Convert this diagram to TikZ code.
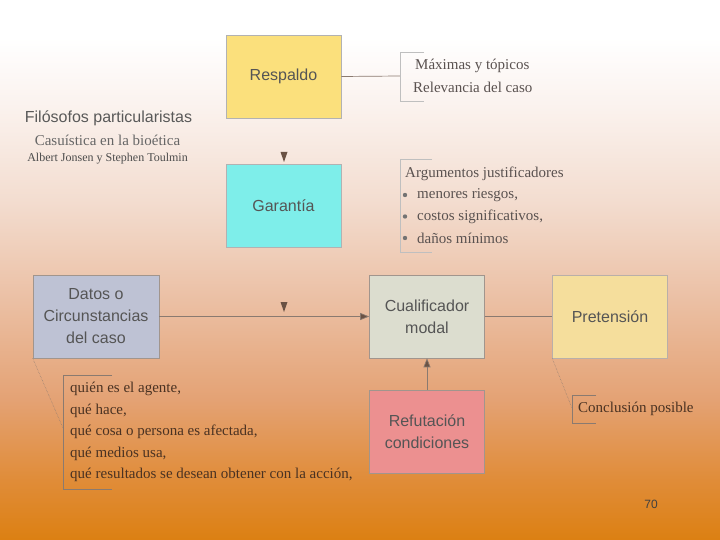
\documentclass[tikz,border=0pt]{standalone}
\usepackage{fontspec}
\setmainfont{Liberation Serif}
\setsansfont{Liberation Sans}
\usetikzlibrary{arrows.meta}
\definecolor{bgA}{HTML}{DC8012}
\definecolor{bgB}{HTML}{E08C38}
\definecolor{bgC}{HTML}{E4A274}
\definecolor{bgD}{HTML}{EBBFA3}
\definecolor{bgE}{HTML}{F3DDD0}
\definecolor{bgF}{HTML}{FBF3EF}
\definecolor{respc}{HTML}{FBE07C}
\definecolor{garc}{HTML}{7EEEEA}
\definecolor{datc}{HTML}{BEC2D4}
\definecolor{cualc}{HTML}{DCDDCF}
\definecolor{pretc}{HTML}{F5DE9C}
\definecolor{refc}{HTML}{EC9090}
\definecolor{boxtxt}{HTML}{555555}
\definecolor{anntxt}{HTML}{5A5250}
\definecolor{anntxtB}{HTML}{4A3222}
\definecolor{linec}{HTML}{8A7A70}
\definecolor{tipc}{HTML}{6A5244}
\pgfdeclareverticalshading{bgshade}{100bp}{color(0bp)=(bgA); color(25bp)=(bgA); color(30.5bp)=(bgB); color(38bp)=(bgC); color(47bp)=(bgD); color(56.5bp)=(bgE); color(65.5bp)=(bgF); color(71.5bp)=(white); color(100bp)=(white)}
\tikzset{
  box/.style={draw=black!30, line width=0.6pt, minimum width=115, minimum height=83, inner sep=0pt,
    align=center, text=boxtxt, font=\sffamily\fontsize{16}{22}\selectfont},
  ann/.style={anchor=west, inner sep=0pt, text=anntxt, font=\fontsize{15}{21.5}\selectfont, align=left},
  annB/.style={anchor=west, inner sep=0pt, text=anntxtB, font=\fontsize{15}{21.5}\selectfont, align=left},
  brk/.style={draw=black!25, line width=0.6pt},
  brkB/.style={draw=linec, line width=0.6pt},
  conn/.style={draw=linec, line width=0.7pt},
  arr/.style={conn, -{Triangle[length=9pt, width=7pt, fill=tipc]}},
  dotl/.style={draw=linec, line width=0.5pt, densely dotted},
  tip/.style={fill=tipc}
}
\begin{document}
\begin{tikzpicture}[x=1pt, y=-1pt]
\useasboundingbox (0,0) rectangle (720,540);
\shade[shading=bgshade] (0,0) rectangle (720,540);

% boxes
\node[box, fill=respc] (resp) at (283.5,76.5) {Respaldo};
\node[box, fill=garc] (gar) at (283.5,205.5) {Garantía};
\node[box, fill=datc, minimum width=126, draw=linec!80] (dat) at (96,316.5) {Datos o\\Circunstancias\\del caso};
\node[box, fill=cualc, draw=linec!80] (cual) at (427,316.5) {Cualificador\\modal};
\node[box, fill=pretc, draw=linec!60] (pret) at (610,316.5) {Pretensión};
\node[box, fill=refc, draw=linec!80] (ref) at (427,432) {Refutación\\condiciones};

% title
\node[inner sep=0pt, text=black!65, font=\sffamily\fontsize{16}{18}\selectfont] (t1) at (108.5,118) {Filósofos particularistas};
\node[inner sep=0pt, text=black!60, font=\fontsize{15}{17}\selectfont] (t2) at (107.5,140) {Casuística en la bioética};
\node[inner sep=0pt, text=black!70, font=\fontsize{12}{14}\selectfont] (t3) at (107.5,159) {Albert Jonsen y Stephen Toulmin};

% connectors
\draw[conn] (resp.east) -- (400,76) coordinate (b1);
\draw[brk] (424,52) -- (400,52) -- (400,101) -- (424,101);
\node[ann] (a1) at (415,66) {Máximas y tópicos};
\node[ann] (a2) at (413,87) {Relevancia del caso};

\draw[brk] (432,159) -- (400,159) -- (400,252) -- (432,252);
\node[ann] (g0) at (405,174) {Argumentos justificadores};
\node[ann] (g1) at (417,195) {menores riesgos,};
\node[ann] (g2) at (417,216.5) {costos significativos,};
\node[ann] (g3) at (417,238) {daños mínimos};
\foreach \yy in {195,216.5,238} \fill[black!55] (405,\yy) circle (2.2);

\fill[tip] (280.5,152) -- (287.5,152) -- (284,162) -- cycle;
\fill[tip] (280.5,302) -- (287.5,302) -- (284,312) -- cycle;

\draw[arr] (dat.east) -- (cual.west);
\draw[conn] (cual.east) -- (pret.west);
\draw[arr] (ref.north) -- (cual.south);

% datos annotation
\coordinate (d1) at (63,428);
\draw[dotl] (dat.south west) -- (d1);
\draw[brkB] (112,375) -- (63,375) -- (63,489) -- (112,489);
\node[annB] (q1) at (70,389) {quién es el agente,};
\node[annB] (q2) at (70,410.5) {qué hace,};
\node[annB] (q3) at (70,432) {qué cosa o persona es afectada,};
\node[annB] (q4) at (70,453.5) {qué medios usa,};
\node[annB] (q5) at (70,475) {qué resultados se desean obtener con la acción,};

% pretension annotation
\coordinate (p1) at (572,408);
\draw[dotl] (pret.south west) -- (p1);
\draw[brkB] (596,395) -- (572,395) -- (572,423) -- (596,423);
\node[annB] (c1) at (578,409) {Conclusión posible};

\node[inner sep=0pt, text=black!75, font=\sffamily\fontsize{12}{14}\selectfont] (pg) at (651,504) {70};
\end{tikzpicture}
\end{document}
